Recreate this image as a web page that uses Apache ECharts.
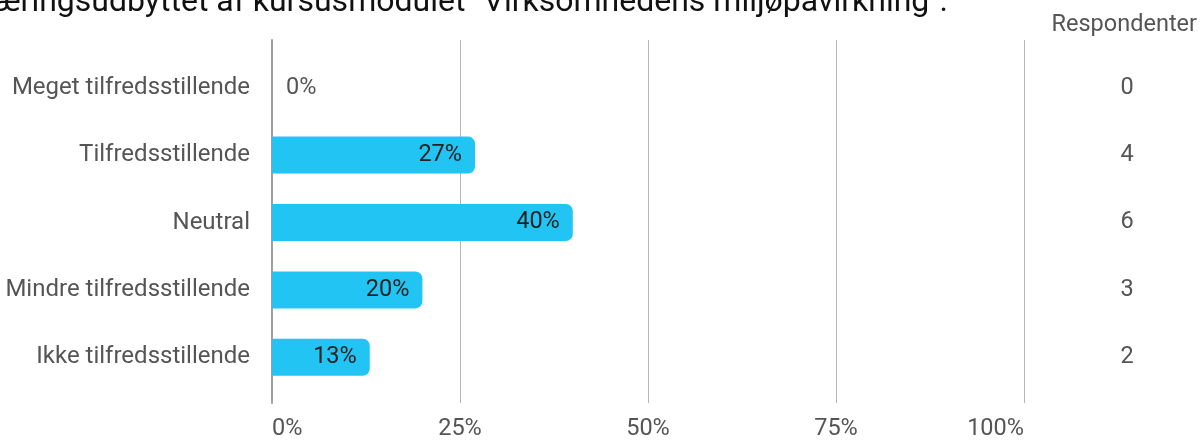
<!DOCTYPE html>
<html><head><meta charset="utf-8">
<script src="https://cdn.jsdelivr.net/npm/echarts@6/dist/echarts.min.js"></script>
<style>html,body{margin:0;padding:0;background:#fff}#c{width:1204px;height:441px}</style>
</head><body><div id="c"></div>
<script>
const titleText = 'Hvordan vurderer du læringsudbyttet af kursusmodulet "Virksomhedens miljøpåvirkning".';
const categories = ['Meget tilfredsstillende','Tilfredsstillende','Neutral','Mindre tilfredsstillende','Ikke tilfredsstillende'];
const percentValues = [0, 27, 40, 20, 13];
const respondents = [0, 4, 6, 3, 2];
const xTicks = [0, 25, 50, 75, 100];

const FONT = 'Roboto';
const chart = echarts.init(document.getElementById('c'));
chart.setOption({
  animation: false,
  textStyle: { fontFamily: FONT },
  graphic: [
    { type: 'text', right: 1204 - 948, top: -13, style: { text: titleText, font: '32px Roboto', fill: '#111', textAlign: 'right' } },
    { type: 'text', right: 7, top: 13, style: { text: 'Respondenter', font: '23.5px Roboto', fill: '#555' } }
  ],
  grid: [
    { left: 272, right: 180, top: 54, height: 337 },
    { left: 272, right: 180, top: 40, bottom: 36 }
  ],
  xAxis: [
    { gridIndex: 0, type: 'value', min: 0, max: 100, interval: 25, show: false },
    { gridIndex: 1, type: 'value', min: xTicks[0], max: xTicks[xTicks.length - 1], interval: 25,
      axisLine: { show: false }, axisTick: { show: false },
      splitLine: { show: true, lineStyle: { color: '#b5b5b5', width: 1 } },
      axisLabel: { formatter: '{value}%', color: '#555', fontSize: 23.5, margin: 14,
                   alignMinLabel: 'left', alignMaxLabel: 'right' } }
  ],
  yAxis: [
    { gridIndex: 0, type: 'category', data: categories, inverse: true,
      axisLine: { show: false }, axisTick: { show: false },
      axisLabel: { color: '#555', fontSize: 24, margin: 22, padding: [4, 0, 0, 0] } },
    { gridIndex: 0, type: 'category', data: respondents, inverse: true, position: 'right',
      axisLine: { show: false }, axisTick: { show: false },
      axisLabel: { color: '#555', fontSize: 23.5, margin: 103, align: 'center', padding: [5, 0, 0, 0] } },
    { gridIndex: 1, type: 'value', min: 0, max: 1,
      axisLine: { show: true, lineStyle: { color: '#a0a0a0', width: 2 } },
      axisTick: { show: false }, axisLabel: { show: false }, splitLine: { show: false } }
  ],
  series: [{
    type: 'bar', xAxisIndex: 0, yAxisIndex: 0, barWidth: 37,
    itemStyle: { color: '#22c4f3', borderRadius: [0, 7, 7, 0] },
    data: percentValues.map(v => ({
      value: v,
      label: v === 0
        ? { show: true, position: 'right', distance: 14, color: '#555', fontSize: 23.5, formatter: '{c}%', padding: [3, 0, 0, 0] }
        : { show: true, position: 'insideRight', distance: 13, color: '#222', fontSize: 23.5, formatter: '{c}%', padding: [2, 0, 0, 0] }
    }))
  }]
});
</script></body></html>
